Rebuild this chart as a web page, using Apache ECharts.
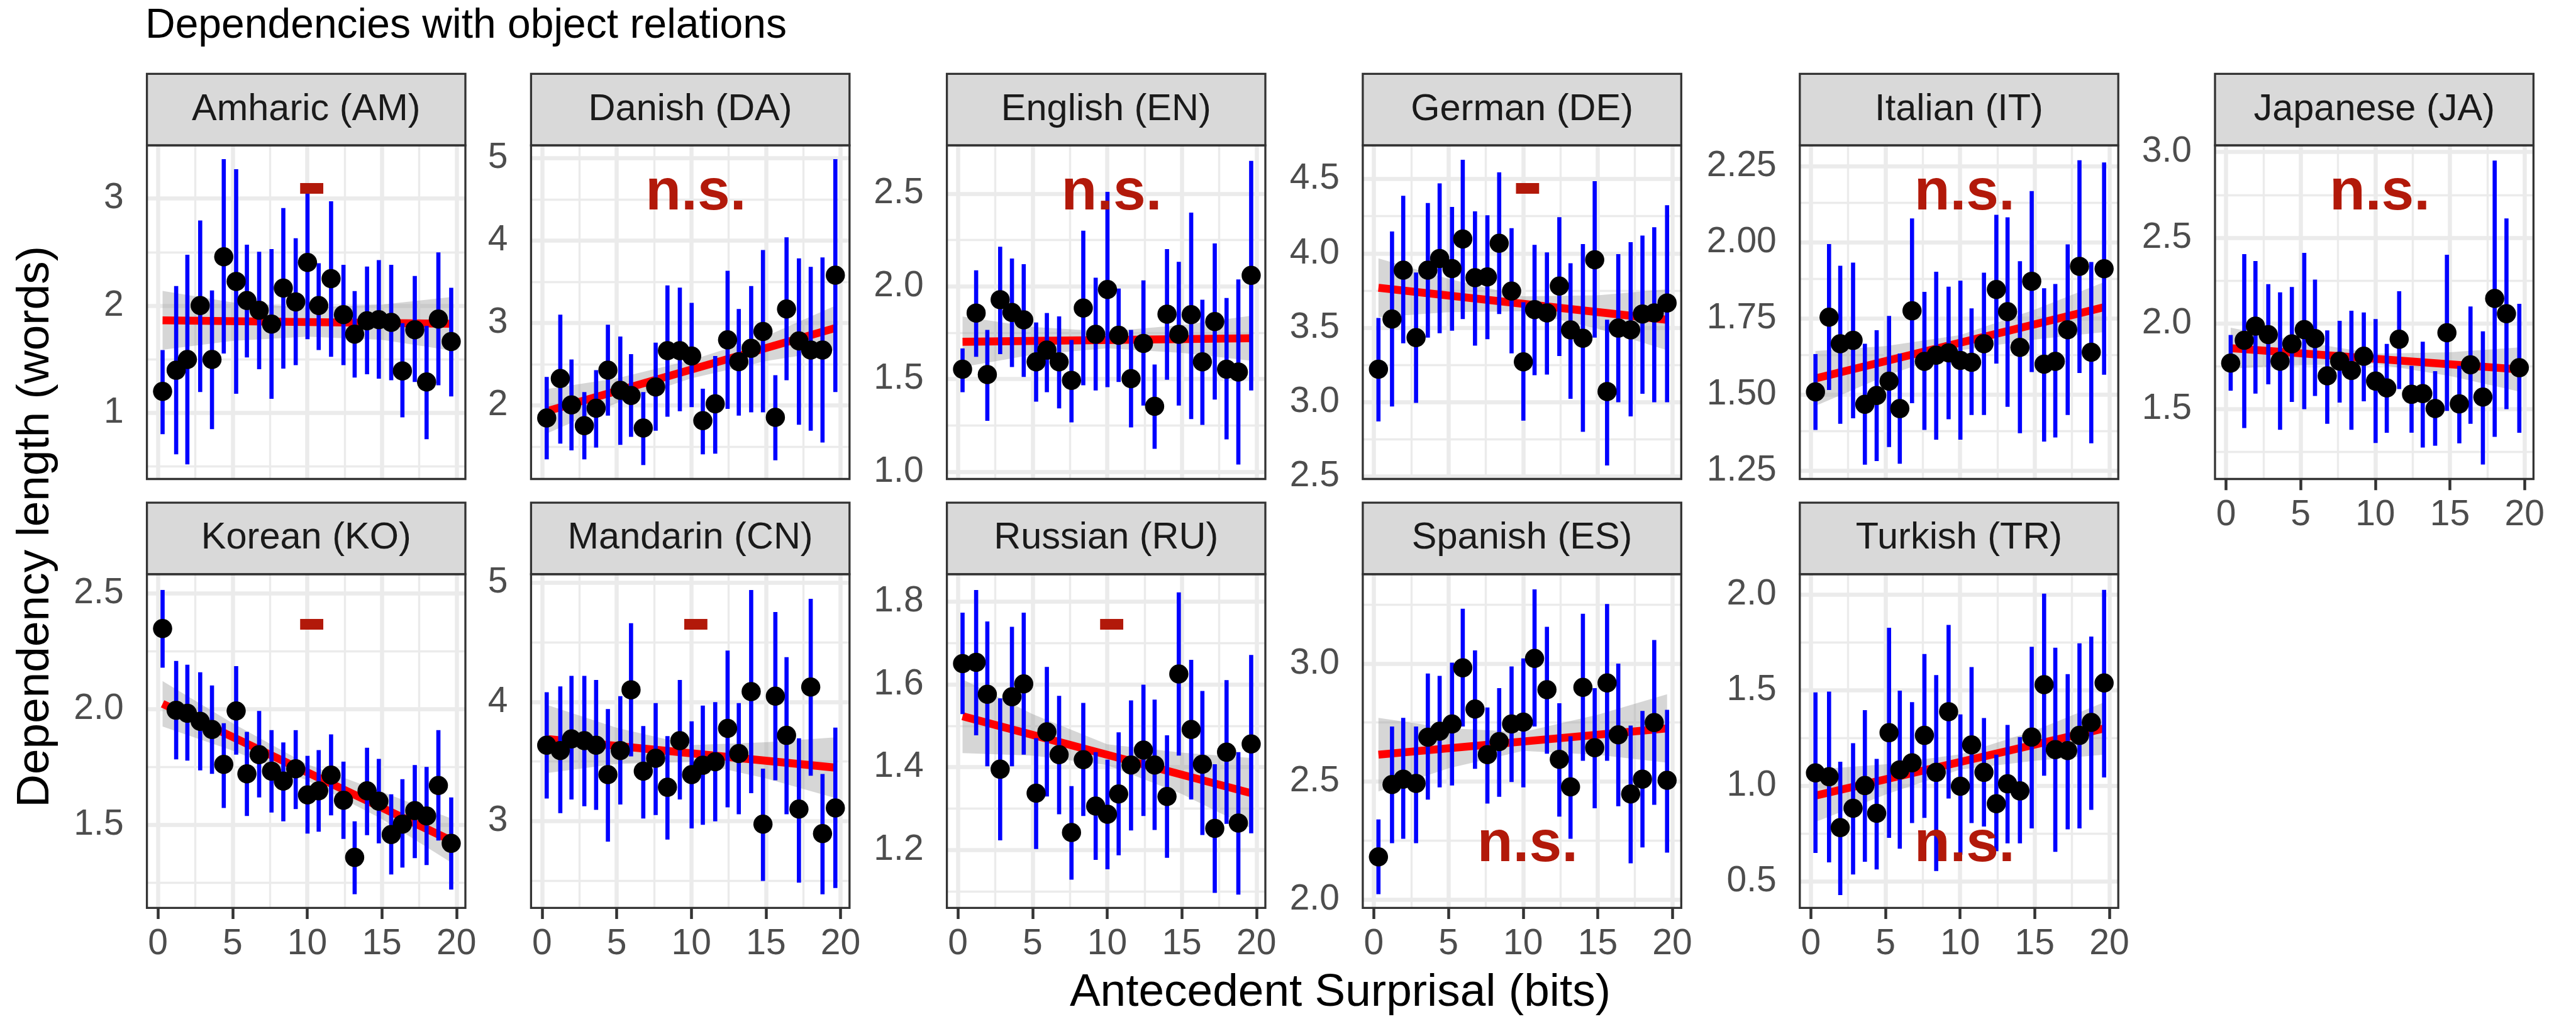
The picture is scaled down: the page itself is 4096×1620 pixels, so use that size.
<!DOCTYPE html>
<html><head><meta charset="utf-8">
<script src="https://cdn.jsdelivr.net/npm/echarts@6/dist/echarts.min.js"></script>
<style>html,body{margin:0;padding:0;background:#fff}#c{width:4096px;height:1620px}</style>
</head><body><div id="c"></div>
<script>
const FONT = "'Liberation Sans', Arial, Helvetica, sans-serif";

// ---------- data ----------
const surprisal = [0.31, 1.22, 1.97, 2.83, 3.62, 4.41, 5.24, 5.96, 6.78, 7.61, 8.40, 9.23, 10.02, 10.77, 11.60, 12.43, 13.18, 14.01, 14.80, 15.63, 16.38, 17.21, 18.00, 18.79, 19.65];
const bandX = [0.31, 5, 10, 15, 19.65];
const fitX = [0.31, 19.65];
const xTicks = [0, 5, 10, 15, 20];
const xTickLabels = ['0', '5', '10', '15', '20'];
const xMinor = [2.5, 7.5, 12.5, 17.5];

const amMean = [1.198,1.396,1.497,2.000,1.497,2.456,2.226,2.047,1.956,1.827,2.164,2.035,2.403,2.000,2.252,1.915,1.733,1.858,1.868,1.843,1.390,1.774,1.286,1.874,1.664];
const amLow  = [0.799,0.610,0.516,1.192,0.846,1.553,1.176,1.516,1.406,1.129,1.412,1.443,1.686,1.585,1.522,1.443,1.327,1.358,1.318,1.302,0.956,1.286,0.752,1.255,1.151];
const amHigh = [1.585,2.182,2.475,2.796,2.142,3.368,3.274,2.569,2.503,2.528,2.912,2.629,3.101,2.396,2.975,2.381,2.135,2.365,2.425,2.381,1.836,2.277,1.811,2.497,2.167];
const amFit = [1.862, 1.830];
const amBandLow = [1.587, 1.67, 1.71, 1.68, 1.58];
const amBandHigh = [2.137, 2.03, 1.98, 2.01, 2.08];

const daMean = [1.849,2.327,2.008,1.755,1.967,2.429,2.184,2.122,1.727,2.224,2.665,2.665,2.600,1.816,2.020,2.796,2.531,2.694,2.898,1.857,3.171,2.784,2.673,2.673,3.580];
const daLow  = [1.347,1.539,1.457,1.347,1.490,1.878,1.522,1.620,1.278,1.694,1.865,1.931,1.980,1.408,1.416,1.959,1.878,1.918,1.918,1.335,2.306,1.767,1.694,1.551,2.163];
const daHigh = [2.347,3.102,2.559,2.163,2.429,2.980,2.837,2.624,2.163,2.763,3.457,3.429,3.245,2.204,2.600,3.633,3.171,3.449,3.886,2.367,4.041,3.784,3.682,3.796,4.988];
const daFit = [1.931, 2.94];
const daBandLow = [1.66, 2.03, 2.33, 2.54, 2.67];
const daBandHigh = [2.20, 2.33, 2.55, 2.84, 3.21];

const enMean = [1.553,1.856,1.524,1.928,1.859,1.819,1.593,1.656,1.593,1.493,1.883,1.741,1.983,1.736,1.502,1.692,1.353,1.850,1.741,1.847,1.593,1.810,1.553,1.538,2.059];
const enLow  = [1.429,1.620,1.275,1.634,1.565,1.511,1.378,1.429,1.342,1.266,1.466,1.438,1.456,1.484,1.239,1.357,1.124,1.496,1.357,1.284,1.253,1.389,1.175,1.039,1.438];
const enHigh = [1.665,2.086,1.765,2.213,2.150,2.119,1.805,1.856,1.838,1.711,2.300,2.046,2.509,1.988,1.765,2.032,1.578,2.201,2.132,2.397,1.928,2.231,1.937,2.037,2.676];
const enFit = [1.701, 1.720];
const enBandLow = [1.565, 1.631, 1.666, 1.641, 1.599];
const enBandHigh = [1.837, 1.781, 1.756, 1.791, 1.841];

const deMean = [3.222,3.559,3.887,3.434,3.887,3.966,3.898,4.097,3.837,3.842,4.068,3.747,3.271,3.622,3.600,3.781,3.486,3.430,3.957,3.072,3.498,3.486,3.593,3.600,3.667];
const deLow  = [2.871,2.971,3.396,2.995,3.434,3.464,3.480,3.559,3.380,3.423,3.593,3.328,2.876,3.181,3.186,3.310,3.023,2.801,3.434,2.575,3.000,2.905,3.057,3.000,3.000];
const deHigh = [3.566,4.147,4.387,3.871,4.339,4.471,4.312,4.629,4.283,4.256,4.545,4.170,3.672,4.057,4.007,4.244,3.934,4.063,4.486,3.554,3.995,4.075,4.120,4.176,4.324];
const deFit = [3.769, 3.554];
const deBandLow = [3.571, 3.605, 3.610, 3.494, 3.350];
const deBandHigh = [3.967, 3.829, 3.712, 3.718, 3.758];

const itMean = [1.509,1.754,1.667,1.678,1.468,1.497,1.544,1.454,1.775,1.609,1.629,1.637,1.612,1.606,1.667,1.845,1.772,1.655,1.872,1.600,1.609,1.713,1.921,1.639,1.913];
const itLow  = [1.384,1.515,1.404,1.422,1.270,1.282,1.328,1.273,1.472,1.384,1.352,1.419,1.352,1.433,1.433,1.602,1.460,1.373,1.574,1.346,1.359,1.433,1.571,1.340,1.565];
const itHigh = [1.633,1.994,1.923,1.933,1.667,1.711,1.758,1.635,2.078,1.837,1.903,1.854,1.874,1.783,1.900,2.090,2.082,1.938,2.168,1.849,1.863,1.993,2.269,1.935,2.262];
const itFit = [1.553, 1.787];
const itBandLow = [1.463, 1.561, 1.645, 1.681, 1.705];
const itBandHigh = [1.643, 1.659, 1.695, 1.779, 1.869];

const jaMean = [1.769,1.902,1.985,1.935,1.780,1.881,1.964,1.912,1.695,1.780,1.726,1.809,1.664,1.624,1.908,1.587,1.591,1.504,1.946,1.531,1.759,1.571,2.146,2.057,1.742];
const jaLow  = [1.608,1.390,1.591,1.645,1.380,1.542,1.500,1.577,1.415,1.539,1.380,1.546,1.303,1.363,1.618,1.363,1.276,1.287,1.490,1.301,1.415,1.177,1.339,1.500,1.363];
const jaHigh = [1.933,2.405,2.364,2.229,2.182,2.213,2.412,2.256,1.960,2.016,2.074,2.064,2.026,1.881,2.188,1.753,1.894,1.722,2.401,1.753,2.099,1.954,2.950,2.613,2.115];
const jaFit = [1.856, 1.732];
const jaBandLow = [1.737, 1.757, 1.764, 1.694, 1.603];
const jaBandHigh = [1.975, 1.895, 1.824, 1.832, 1.861];

const koMean = [2.348,1.995,1.982,1.947,1.912,1.761,1.992,1.720,1.803,1.732,1.689,1.742,1.629,1.647,1.715,1.606,1.359,1.647,1.602,1.458,1.503,1.561,1.538,1.670,1.420];
const koLow  = [2.179,1.783,1.777,1.735,1.720,1.573,1.803,1.538,1.618,1.553,1.515,1.568,1.462,1.470,1.541,1.439,1.200,1.455,1.420,1.285,1.315,1.356,1.326,1.432,1.220];
const koHigh = [2.515,2.208,2.192,2.159,2.102,1.939,2.186,1.902,1.992,1.909,1.856,1.909,1.798,1.823,1.891,1.773,1.515,1.833,1.785,1.632,1.697,1.758,1.750,1.909,1.618];
const koFit = [2.023, 1.432];
const koBandLow = [1.925, 1.821, 1.692, 1.525, 1.337];
const koBandHigh = [2.121, 1.939, 1.762, 1.643, 1.527];

const cnMean = [3.636,3.592,3.689,3.675,3.636,3.389,3.592,4.102,3.418,3.527,3.283,3.675,3.389,3.468,3.498,3.778,3.566,4.087,2.973,4.049,3.719,3.100,4.125,2.894,3.109];
const cnLow  = [3.189,3.065,3.180,3.124,3.094,2.826,3.138,3.542,3.021,3.050,2.844,3.180,2.938,2.968,2.997,3.115,3.056,3.233,2.496,3.342,3.056,2.482,3.380,2.384,2.437];
const cnHigh = [4.081,4.131,4.219,4.219,4.184,3.940,4.049,4.661,3.798,3.990,3.713,4.184,3.837,3.969,3.999,4.432,3.990,4.941,3.439,4.756,4.376,3.695,4.867,3.395,3.784];
const cnFit = [3.689, 3.448];
const cnBandLow = [3.402, 3.479, 3.498, 3.358, 3.193];
const cnBandHigh = [3.976, 3.783, 3.638, 3.662, 3.703];

const ruMean = [1.650,1.653,1.576,1.395,1.570,1.601,1.337,1.485,1.430,1.242,1.418,1.306,1.286,1.335,1.405,1.441,1.405,1.329,1.625,1.491,1.407,1.252,1.436,1.265,1.456];
const ruLow  = [1.528,1.477,1.402,1.223,1.402,1.430,1.202,1.329,1.286,1.128,1.282,1.176,1.153,1.187,1.247,1.282,1.248,1.181,1.428,1.322,1.236,1.096,1.263,1.092,1.240];
const ruHigh = [1.773,1.828,1.752,1.566,1.739,1.773,1.470,1.642,1.572,1.354,1.555,1.436,1.418,1.484,1.561,1.599,1.563,1.477,1.822,1.659,1.584,1.407,1.610,1.436,1.671];
const ruFit = [1.523, 1.337];
const ruBandLow = [1.434, 1.428, 1.405, 1.335, 1.252];
const ruBandHigh = [1.612, 1.528, 1.455, 1.435, 1.422];

const esMean = [2.180,2.487,2.510,2.492,2.688,2.713,2.744,2.982,2.807,2.614,2.669,2.744,2.752,3.022,2.889,2.594,2.477,2.899,2.643,2.918,2.698,2.447,2.510,2.750,2.505];
const esLow  = [2.022,2.238,2.257,2.238,2.423,2.475,2.483,2.733,2.554,2.406,2.435,2.498,2.475,2.733,2.618,2.351,2.257,2.588,2.386,2.588,2.395,2.153,2.220,2.401,2.198];
const esHigh = [2.339,2.733,2.770,2.733,2.958,2.948,3.004,3.233,3.056,2.814,2.896,2.988,3.022,3.315,3.156,2.832,2.692,3.211,2.896,3.253,3.000,2.737,2.799,3.100,2.804];
const esFit = [2.614, 2.725];
const esBandLow = [2.458, 2.556, 2.630, 2.613, 2.580];
const esBandHigh = [2.770, 2.726, 2.710, 2.783, 2.870];

const trMean = [1.068,1.048,0.782,0.883,1.002,0.857,1.278,1.084,1.121,1.264,1.071,1.388,0.998,1.214,1.071,0.907,1.011,0.974,1.255,1.529,1.190,1.185,1.264,1.332,1.538];
const trLow  = [0.650,0.601,0.430,0.537,0.604,0.564,0.729,0.672,0.806,0.833,0.555,0.934,0.641,0.806,0.788,0.659,0.700,0.700,0.778,1.053,0.656,0.773,0.778,0.875,1.044];
const trHigh = [1.489,1.493,1.126,1.223,1.396,1.141,1.826,1.498,1.438,1.689,1.579,1.841,1.374,1.621,1.355,1.163,1.319,1.255,1.727,2.005,1.722,1.584,1.745,1.780,2.024];
const trFit = [0.949, 1.300];
const trBandLow = [0.812, 0.955, 1.085, 1.131, 1.163];
const trBandHigh = [1.086, 1.113, 1.165, 1.289, 1.437];

// y axis ranges, ticks, tick labels, minor grid
const yRanges = {AM:[0.380,3.497], DA:[1.109,5.155], EN:[0.961,2.760], DE:[2.484,4.726], IT:[1.223,2.318], JA:[1.093,3.039],
                 KO:[1.141,2.583], CN:[2.270,5.073], RU:[1.060,1.866], ES:[1.964,3.379], TR:[0.363,2.106]};
const amYTicks = [1,2,3];            const amYLabels = ['1','2','3'];            const amYMinor = [0.5,1.5,2.5];
const daYTicks = [2,3,4,5];          const daYLabels = ['2','3','4','5'];        const daYMinor = [1.5,2.5,3.5,4.5];
const enYTicks = [1.0,1.5,2.0,2.5];  const enYLabels = ['1.0','1.5','2.0','2.5']; const enYMinor = [1.25,1.75,2.25];
const deYTicks = [2.5,3.0,3.5,4.0,4.5]; const deYLabels = ['2.5','3.0','3.5','4.0','4.5']; const deYMinor = [2.75,3.25,3.75,4.25];
const itYTicks = [1.25,1.5,1.75,2.0,2.25]; const itYLabels = ['1.25','1.50','1.75','2.00','2.25']; const itYMinor = [1.375,1.625,1.875,2.125];
const jaYTicks = [1.5,2.0,2.5,3.0];  const jaYLabels = ['1.5','2.0','2.5','3.0']; const jaYMinor = [1.25,1.75,2.25,2.75];
const koYTicks = [1.5,2.0,2.5];      const koYLabels = ['1.5','2.0','2.5'];      const koYMinor = [1.25,1.75,2.25];
const cnYTicks = [3,4,5];            const cnYLabels = ['3','4','5'];            const cnYMinor = [2.5,3.5,4.5];
const ruYTicks = [1.2,1.4,1.6,1.8];  const ruYLabels = ['1.2','1.4','1.6','1.8']; const ruYMinor = [1.1,1.3,1.5,1.7];
const esYTicks = [2.0,2.5,3.0];      const esYLabels = ['2.0','2.5','3.0'];      const esYMinor = [2.25,2.75,3.25];
const trYTicks = [0.5,1.0,1.5,2.0];  const trYLabels = ['0.5','1.0','1.5','2.0']; const trYMinor = [0.75,1.25,1.75];

// significance notes
const noteX = 10.3;
const noteTexts = {AM:'-', DA:'n.s.', EN:'n.s.', DE:'-', IT:'n.s.', JA:'n.s.', KO:'-', CN:'-', RU:'-', ES:'n.s.', TR:'n.s.'};
const noteYs = {AM:3.074, DA:4.572, EN:2.500, DE:4.422, IT:2.160, JA:2.758, KO:2.358, CN:4.635, RU:1.740, ES:2.231, TR:0.692};

// ---------- layout (px in 4096x1620 window) ----------
const colLeft = [233.6, 844.4, 1505.6, 2166.9, 2861.8, 3522.0];
const rowTop = [231.1, 912.9];
const PW = 506.4, PH = 530.4, SH = 113.7;
const X_MIN = -0.74, X_MAX = 20.6;
const TICK_LEN = 17.7, TICK_W = 4.5, BORDER_W = 3.3, MAJ_W = 6.5, MIN_W = 3.4;
const PT = 30.5, EB_W = 6.6, FIT_W = 12.6;
const AX_FONT = 57, STRIP_FONT = 59.5, NOTE_FONT = 93, DASH_FONT = 120;

const panels = [
  {k:'AM', label:'Amharic (AM)',  r:0, c:0, mean:amMean, low:amLow, high:amHigh, fit:amFit, bLo:amBandLow, bHi:amBandHigh, yt:amYTicks, yl:amYLabels, ym:amYMinor, xa:false},
  {k:'DA', label:'Danish (DA)',   r:0, c:1, mean:daMean, low:daLow, high:daHigh, fit:daFit, bLo:daBandLow, bHi:daBandHigh, yt:daYTicks, yl:daYLabels, ym:daYMinor, xa:false},
  {k:'EN', label:'English (EN)',  r:0, c:2, mean:enMean, low:enLow, high:enHigh, fit:enFit, bLo:enBandLow, bHi:enBandHigh, yt:enYTicks, yl:enYLabels, ym:enYMinor, xa:false},
  {k:'DE', label:'German (DE)',   r:0, c:3, mean:deMean, low:deLow, high:deHigh, fit:deFit, bLo:deBandLow, bHi:deBandHigh, yt:deYTicks, yl:deYLabels, ym:deYMinor, xa:false},
  {k:'IT', label:'Italian (IT)',  r:0, c:4, mean:itMean, low:itLow, high:itHigh, fit:itFit, bLo:itBandLow, bHi:itBandHigh, yt:itYTicks, yl:itYLabels, ym:itYMinor, xa:false},
  {k:'JA', label:'Japanese (JA)', r:0, c:5, mean:jaMean, low:jaLow, high:jaHigh, fit:jaFit, bLo:jaBandLow, bHi:jaBandHigh, yt:jaYTicks, yl:jaYLabels, ym:jaYMinor, xa:true},
  {k:'KO', label:'Korean (KO)',   r:1, c:0, mean:koMean, low:koLow, high:koHigh, fit:koFit, bLo:koBandLow, bHi:koBandHigh, yt:koYTicks, yl:koYLabels, ym:koYMinor, xa:true},
  {k:'CN', label:'Mandarin (CN)', r:1, c:1, mean:cnMean, low:cnLow, high:cnHigh, fit:cnFit, bLo:cnBandLow, bHi:cnBandHigh, yt:cnYTicks, yl:cnYLabels, ym:cnYMinor, xa:true},
  {k:'RU', label:'Russian (RU)',  r:1, c:2, mean:ruMean, low:ruLow, high:ruHigh, fit:ruFit, bLo:ruBandLow, bHi:ruBandHigh, yt:ruYTicks, yl:ruYLabels, ym:ruYMinor, xa:true},
  {k:'ES', label:'Spanish (ES)',  r:1, c:3, mean:esMean, low:esLow, high:esHigh, fit:esFit, bLo:esBandLow, bHi:esBandHigh, yt:esYTicks, yl:esYLabels, ym:esYMinor, xa:true},
  {k:'TR', label:'Turkish (TR)',  r:1, c:4, mean:trMean, low:trLow, high:trHigh, fit:trFit, bLo:trBandLow, bHi:trBandHigh, yt:trYTicks, yl:trYLabels, ym:trYMinor, xa:true}
];

const grids = [], xAxes = [], yAxes = [], series = [], elements = [];

panels.forEach((p, i) => {
  const left = colLeft[p.c], top = rowTop[p.r];
  grids.push({left: left, top: top, width: PW, height: PH, show: false, containLabel: false, outerBoundsMode: 'none'});
  xAxes.push({
    gridIndex: i, type: 'value', min: X_MIN, max: X_MAX,
    axisLine: {show: false}, splitLine: {show: false},
    axisTick: {show: p.xa, length: TICK_LEN, lineStyle: {color: '#333333', width: TICK_W}, customValues: xTicks},
    axisLabel: {show: p.xa, customValues: xTicks, formatter: v => xTickLabels[xTicks.indexOf(v)],
                margin: 29, fontSize: AX_FONT, color: '#4D4D4D', fontFamily: FONT}
  });
  yAxes.push({
    gridIndex: i, type: 'value', min: yRanges[p.k][0], max: yRanges[p.k][1],
    axisLine: {show: false}, splitLine: {show: false},
    axisTick: {show: true, length: TICK_LEN, lineStyle: {color: '#333333', width: TICK_W}, customValues: p.yt},
    axisLabel: {show: true, customValues: p.yt, formatter: v => p.yl[p.yt.indexOf(v)],
                margin: 37, fontSize: AX_FONT, color: '#4D4D4D', fontFamily: FONT}
  });

  const gl = [];
  xMinor.forEach(v => gl.push({xAxis: v, lineStyle: {width: MIN_W}}));
  p.ym.forEach(v => gl.push({yAxis: v, lineStyle: {width: MIN_W}}));
  xTicks.forEach(v => gl.push({xAxis: v, lineStyle: {width: MAJ_W}}));
  p.yt.forEach(v => gl.push({yAxis: v, lineStyle: {width: MAJ_W}}));
  series.push({
    type: 'line', xAxisIndex: i, yAxisIndex: i, data: [], silent: true, z: 1,
    markLine: {silent: true, z: 1, symbol: ['none', 'none'], label: {show: false}, animation: false,
               emphasis: {disabled: true}, lineStyle: {color: '#EBEBEB', type: 'solid', opacity: 1}, data: gl}
  });

  // confidence band
  series.push({
    type: 'custom', xAxisIndex: i, yAxisIndex: i, silent: true, z: 2,
    data: bandX.map((x, j) => [x, p.bLo[j], p.bHi[j]]),
    encode: {x: 0, y: [1, 2]},
    renderItem: (params, api) => {
      if (params.dataIndex !== 0) return null;
      const pts = [];
      for (let j = 0; j < bandX.length; j++) pts.push(api.coord([bandX[j], p.bHi[j]]));
      for (let j = bandX.length - 1; j >= 0; j--) pts.push(api.coord([bandX[j], p.bLo[j]]));
      return {type: 'polygon', shape: {points: pts}, style: {fill: 'rgba(153,153,153,0.4)'}};
    }
  });

  // fitted line
  series.push({
    type: 'line', xAxisIndex: i, yAxisIndex: i, silent: true, z: 3,
    data: fitX.map((x, j) => [x, p.fit[j]]), symbol: 'none',
    lineStyle: {color: '#FF0000', width: FIT_W, cap: 'butt', opacity: 1}
  });

  // error bars
  series.push({
    type: 'custom', xAxisIndex: i, yAxisIndex: i, silent: true, z: 4,
    data: surprisal.map((x, j) => [x, p.low[j], p.high[j]]),
    encode: {x: 0, y: [1, 2]},
    renderItem: (params, api) => {
      const a = api.coord([api.value(0), api.value(1)]);
      const b = api.coord([api.value(0), api.value(2)]);
      return {type: 'line', shape: {x1: a[0], y1: a[1], x2: b[0], y2: b[1]}, style: {stroke: '#0000FF', lineWidth: EB_W, opacity: 1}};
    }
  });

  // means
  series.push({
    type: 'scatter', xAxisIndex: i, yAxisIndex: i, silent: true, z: 5,
    data: surprisal.map((x, j) => [x, p.mean[j]]),
    symbol: 'circle', symbolSize: PT, itemStyle: {color: '#000000', opacity: 1}
  });

  // significance note
  const txt = noteTexts[p.k];
  const isDash = txt === '-';
  series.push({
    type: 'scatter', xAxisIndex: i, yAxisIndex: i, silent: true, z: 6,
    data: [[noteX, noteYs[p.k]]], symbol: 'circle', symbolSize: 1, itemStyle: {color: 'rgba(0,0,0,0)', opacity: 1},
    label: {show: true, position: 'inside', formatter: txt, fontSize: isDash ? DASH_FONT : NOTE_FONT, opacity: 1,
            fontWeight: 'bold', fontFamily: isDash ? "'DejaVu Sans', sans-serif" : FONT, color: '#B2190A'}
  });

  // strip + panel border
  const sTop = top - SH;
  elements.push({type: 'rect', silent: true, z: 10, shape: {x: left, y: sTop, width: PW, height: SH},
                 style: {fill: '#D9D9D9', stroke: '#333333', lineWidth: BORDER_W}});
  elements.push({type: 'text', silent: true, z: 11, x: left + PW / 2, y: sTop + SH / 2,
                 style: {text: p.label, fontSize: STRIP_FONT, fontFamily: FONT, fill: '#1A1A1A', align: 'center', verticalAlign: 'middle'}});
  elements.push({type: 'rect', silent: true, z: 10, shape: {x: left, y: top, width: PW, height: PH},
                 style: {fill: 'none', stroke: '#333333', lineWidth: BORDER_W}});
});

elements.push({type: 'text', silent: true, z: 11, x: 231, y: 41.4,
               style: {text: 'Dependencies with object relations', fontSize: 66, fontFamily: FONT, fill: '#000000', align: 'left', verticalAlign: 'middle'}});
elements.push({type: 'text', silent: true, z: 11, x: 2131, y: 1579,
               style: {text: 'Antecedent Surprisal (bits)', fontSize: 73, fontFamily: FONT, fill: '#000000', align: 'center', verticalAlign: 'middle'}});
elements.push({type: 'text', silent: true, z: 11, x: 57, y: 837.4, rotation: Math.PI / 2,
               style: {text: 'Dependency length (words)', fontSize: 73, fontFamily: FONT, fill: '#000000', align: 'center', verticalAlign: 'middle'}});

const chart = echarts.init(document.getElementById('c'), null, {renderer: 'canvas', width: 4096, height: 1620});
chart.setOption({
  animation: false,
  backgroundColor: '#FFFFFF',
  textStyle: {fontFamily: FONT},
  grid: grids, xAxis: xAxes, yAxis: yAxes, series: series,
  graphic: {elements: elements}
});
</script></body></html>
